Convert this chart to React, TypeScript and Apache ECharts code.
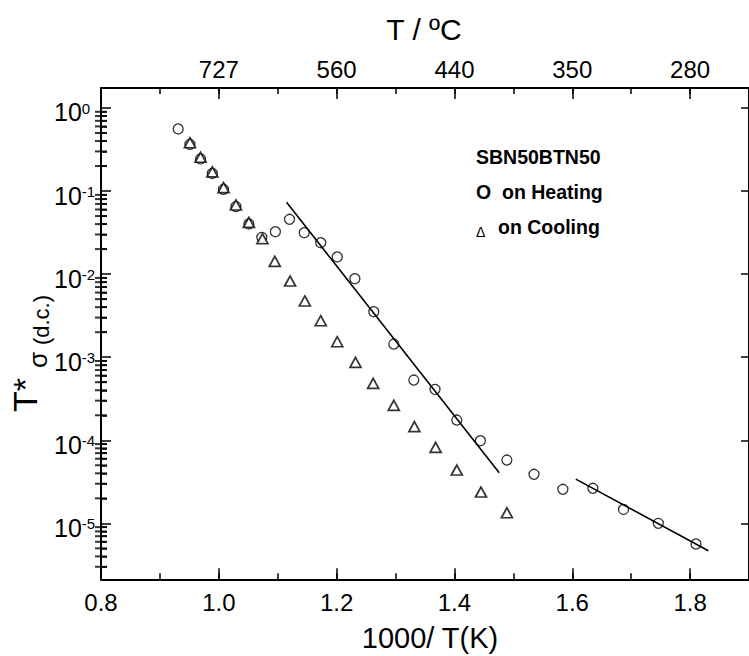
import React, { useEffect, useRef } from "react";
import * as echarts from "echarts";

const FONT = '"Liberation Sans", Arial, Helvetica, sans-serif';

// x = 1000/T(K)
const X_MIN = 0.8;
const X_MAX = 1.9;
// y = T*sigma (log scale)
const Y_MIN = 2.12e-6;
const Y_MAX = 1.74;

// Heating (circles)
const heatingX = [0.931, 0.951, 0.969, 0.989, 1.008, 1.029, 1.051, 1.073, 1.096, 1.12, 1.145, 1.173, 1.201, 1.231, 1.263, 1.297, 1.331, 1.367, 1.404, 1.444, 1.489, 1.535, 1.584, 1.635, 1.687, 1.746, 1.81];
const heatingY = [0.559, 0.365, 0.244, 0.163, 0.105, 0.065, 0.0402, 0.0277, 0.0324, 0.0457, 0.0315, 0.0239, 0.0161, 0.00881, 0.00353, 0.00144, 0.000531, 0.00041, 0.000175, 9.88e-5, 5.78e-5, 3.89e-5, 2.57e-5, 2.64e-5, 1.47e-5, 1.0e-5, 5.64e-6];

// Cooling (triangles)
const coolingX = [0.951, 0.969, 0.989, 1.008, 1.029, 1.051, 1.074, 1.095, 1.121, 1.146, 1.173, 1.201, 1.232, 1.262, 1.297, 1.332, 1.368, 1.404, 1.445, 1.489];
const coolingY = [0.382, 0.255, 0.17, 0.11, 0.068, 0.042, 0.0267, 0.01426, 0.00826, 0.00475, 0.00275, 0.001535, 0.000867, 0.000484, 0.000263, 0.000146, 8.22e-5, 4.38e-5, 2.38e-5, 1.34e-5];

// Linear fits (straight lines in Arrhenius plot)
const fit1X = [1.115, 1.476];
const fit1Y = [0.0733, 4.07e-5];
const fit2X = [1.606, 1.831];
const fit2Y = [3.41e-5, 4.68e-6];

// Top axis: T / ºC labels at 1000/T positions
const topTickPositions = [1.0, 1.2, 1.4, 1.6, 1.8];
const topTickLabels = ["727", "560", "440", "350", "280"];

// Minor log ticks on left axis
const decadeExponents = [-6, -5, -4, -3, -2, -1, 0];
const minorMultipliers = [2, 3, 4, 5, 6, 7, 8, 9];

const zip = (xs: number[], ys: number[]) => xs.map((x, i) => [x, ys[i]]);

export default function App() {
  const ref = useRef<HTMLDivElement>(null);

  useEffect(() => {
    if (!ref.current) return;
    const chart = echarts.init(ref.current, null, { renderer: "svg" });

    const minorValues: number[] = [];
    decadeExponents.forEach((e) => {
      minorMultipliers.forEach((m) => {
        const v = m * Math.pow(10, e);
        if (v > Y_MIN && v < Y_MAX) minorValues.push(v);
      });
    });
    const minorTicks = minorValues.map((v) => [X_MIN, v]);

    const axisLine = { show: true, onZero: false, lineStyle: { color: "#000", width: 2 } };
    const tickStyle = { color: "#000", width: 1.5 };

    const txt = (x: number, y: number, text: string, fontSize: number, extra: any = {}, rotation = 0) => ({
      type: "text", x, y, rotation, silent: true,
      style: {
        text, fontSize, fontFamily: FONT, fill: "#000",
        align: extra.align || "center", verticalAlign: "middle",
        textAlign: extra.align || "center", textVerticalAlign: "middle",
        fontWeight: extra.fontWeight || "normal",
      },
    });

    const option: any = {
      animation: false,
      backgroundColor: "#fff",
      grid: { left: 101, top: 88, width: 652.2, height: 491.3, containLabel: false },
      xAxis: [
        {
          type: "value", position: "bottom", min: X_MIN, max: X_MAX, interval: 0.2,
          axisLine, splitLine: { show: false },
          axisTick: { show: true, inside: true, length: 11, lineStyle: tickStyle },
          axisLabel: {
            show: true, margin: 11, fontSize: 24, fontFamily: FONT, color: "#000",
            showMaxLabel: false,
            formatter: (v: number) => (Math.abs(v * 5 - Math.round(v * 5)) < 1e-6 ? v.toFixed(1) : ""),
          },
        },
        {
          type: "value", position: "bottom", min: X_MIN, max: X_MAX, interval: 0.1,
          axisLine: { show: false, onZero: false }, splitLine: { show: false },
          axisTick: { show: true, inside: true, length: 6, lineStyle: tickStyle },
          axisLabel: { show: false },
        },
        {
          type: "value", position: "top", min: X_MIN, max: X_MAX, interval: 0.2,
          axisLine, splitLine: { show: false },
          axisTick: { show: true, inside: true, length: 11, lineStyle: tickStyle },
          axisLabel: {
            show: true, margin: 7, fontSize: 24, fontFamily: FONT, color: "#000",
            showMaxLabel: false, showMinLabel: false,
            formatter: (v: number) => {
              const i = topTickPositions.findIndex((p) => Math.abs(p - v) < 1e-6);
              return i >= 0 ? topTickLabels[i] : "";
            },
          },
        },
        {
          type: "value", position: "top", min: X_MIN, max: X_MAX, interval: 0.1,
          axisLine: { show: false, onZero: false }, splitLine: { show: false },
          axisTick: { show: true, inside: true, length: 6, lineStyle: tickStyle },
          axisLabel: { show: false },
        },
      ],
      yAxis: [
        {
          type: "log", logBase: 10, position: "left", min: Y_MIN, max: Y_MAX,
          axisLine, splitLine: { show: false },
          axisTick: { show: true, inside: true, length: 10, lineStyle: tickStyle },
          axisLabel: {
            show: true, align: "left", margin: 47, color: "#000",
            padding: [10, 0, 0, 0],
            showMinLabel: false, showMaxLabel: false,
            formatter: (v: number) => {
              const l = Math.log10(v);
              const e = Math.round(l);
              if (Math.abs(l - e) > 1e-6) return "";
              return `{b|10}{s|${e}}`;
            },
            rich: {
              b: { fontSize: 25, fontFamily: FONT, color: "#000", lineHeight: 24, verticalAlign: "bottom" },
              s: { fontSize: 15, fontFamily: FONT, color: "#000", lineHeight: 8, verticalAlign: "top" },
            },
          },
        },
        {
          type: "log", logBase: 10, position: "right", min: Y_MIN, max: Y_MAX,
          axisLine, splitLine: { show: false },
          axisTick: { show: true, inside: true, length: 8, lineStyle: tickStyle },
          axisLabel: { show: false },
        },
        {
          // minor log ticks on the left axis (custom tick values)
          type: "log", logBase: 10, position: "left", min: Y_MIN, max: Y_MAX,
          axisLine: { show: false }, splitLine: { show: false },
          axisTick: { show: true, inside: true, length: 6, lineStyle: tickStyle, customValues: minorValues },
          axisLabel: { show: false },
        },
      ],
      series: [
        {
          type: "line", xAxisIndex: 0, yAxisIndex: 0, data: zip(fit1X, fit1Y),
          symbol: "none", lineStyle: { color: "#000", width: 1.6 }, silent: true,
        },
        {
          type: "line", xAxisIndex: 0, yAxisIndex: 0, data: zip(fit2X, fit2Y),
          symbol: "none", lineStyle: { color: "#000", width: 1.6 }, silent: true,
        },
        {
          type: "scatter", xAxisIndex: 0, yAxisIndex: 0, data: zip(heatingX, heatingY),
          symbol: "circle", symbolSize: 10,
          itemStyle: { color: "#fff", borderColor: "#000", borderWidth: 1.3 },
        },
        {
          type: "scatter", xAxisIndex: 0, yAxisIndex: 0, data: zip(coolingX, coolingY),
          symbol: "triangle", symbolSize: [11, 10],
          itemStyle: { color: "#fff", borderColor: "#000", borderWidth: 1.7 },
        },
        {
          // minor log ticks drawn as marks at the axis (fallback)
          type: "scatter", xAxisIndex: 0, yAxisIndex: 0, data: minorTicks, silent: true, clip: false,
          symbol: "rect", symbolSize: [12, 2], symbolOffset: [0, 0],
          itemStyle: { color: "#000" }, z: 5,
        },
      ],
      graphic: [
        txt(424, 29, "T / ºC", 30),
        txt(430, 638, "1000/ T(K)", 29),
        txt(25, 395, "T*", 34, {}, Math.PI / 2),
        txt(38, 360, "σ", 26, {}, Math.PI / 2),
        txt(41, 320, "(d.c.)", 22, {}, Math.PI / 2),
        txt(476, 157, "SBN50BTN50", 19.5, { align: "left", fontWeight: "bold" }),
        txt(476, 192, "O  on Heating", 19.5, { align: "left", fontWeight: "bold" }),
        txt(476, 232, "Δ", 14, { align: "left" }),
        txt(498, 227, "on Cooling", 19.5, { align: "left", fontWeight: "bold" }),
      ],
    };

    chart.setOption(option);
    return () => chart.dispose();
  }, []);

  return (
    <div
      ref={ref}
      style={{ position: "fixed", left: 0, top: 0, width: 749, height: 656, background: "#fff" }}
    />
  );
}
